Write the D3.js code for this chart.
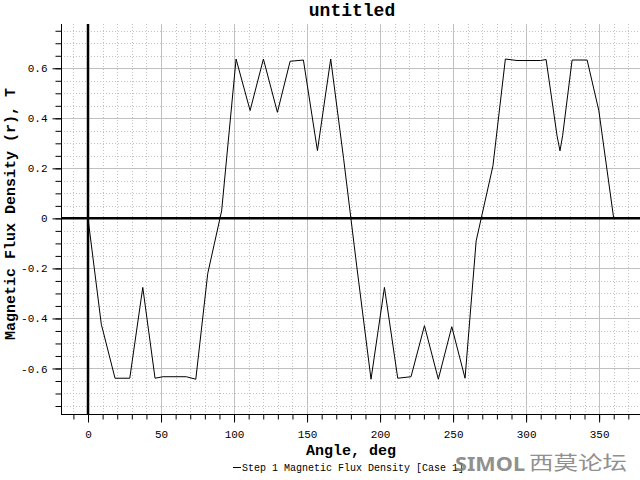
<!DOCTYPE html>
<html>
<head>
<meta charset="utf-8">
<script src="https://cdn.jsdelivr.net/npm/d3@7/dist/d3.min.js"></script>
<style>
  html, body { margin: 0; padding: 0; background: #fff; }
  svg { display: block; }
</style>
</head>
<body>
<svg id="chart" width="640" height="480"></svg>
<script>
// ---- data ----
const angles = [0, 9.1, 18.5, 28.6, 37.5, 45.9, 51.4, 67.3, 73.8, 82, 91.5, 101.4, 111, 120.1, 129.7,
  138.4, 147.5, 157.1, 166.2, 175, 184, 193.8, 203, 212.1, 221.2, 230.4, 239.9, 249.1, 258.2,
  265.8, 277.3, 285.8, 293.8, 309.8, 313.7, 321.2, 323.2, 325, 331.5, 341.8, 349.8, 360];
const fluxValues = [0, -0.423, -0.639, -0.639, -0.276, -0.639, -0.633, -0.633, -0.643, -0.22, 0.03,
  0.637, 0.431, 0.637, 0.424, 0.628, 0.633, 0.271, 0.637, 0.24, -0.19, -0.643, -0.276, -0.639,
  -0.633, -0.429, -0.643, -0.433, -0.639, -0.09, 0.21, 0.637, 0.631, 0.631, 0.635, 0.33, 0.27,
  0.33, 0.633, 0.633, 0.431, 0];
const xTickValues = [0, 50, 100, 150, 200, 250, 300, 350];
const xTickLabels = ["0", "50", "100", "150", "200", "250", "300", "350"];
const yTickValues = [-0.6, -0.4, -0.2, 0, 0.2, 0.4, 0.6];
const yTickLabels = ["-0.6", "-0.4", "-0.2", "0", "0.2", "0.4", "0.6"];
const titleText = "untitled";
const xTitle = "Angle, deg";
const yTitle = "Magnetic Flux Density (r), T";
const legendText = "Step 1 Magnetic Flux Density [Case 1]";

// ---- layout ----
const L = 61, R = 640, T = 24, B = 414;
const svg = d3.select("#chart");
const x = d3.scaleLinear().domain([-18.5, 378]).range([L, R]);
const y = d3.scaleLinear().domain([-0.782, 0.777]).range([B, T]);
const FONT = "'Liberation Mono', 'DejaVu Sans Mono', monospace";

svg.append("defs").append("clipPath").attr("id", "plotclip")
  .append("rect").attr("x", L).attr("y", T).attr("width", R - L).attr("height", B - T);

const plot = svg.append("g").attr("clip-path", "url(#plotclip)");

// minor grid (dotted)
const xMinor = d3.range(-10, 378, 10).filter(v => v % 50 !== 0);
const yMinor = d3.range(-15, 16).map(i => i * 0.05).filter(v => Math.abs(Math.round(v * 100)) % 20 !== 0);
plot.selectAll(".vgm").data(xMinor).enter().append("line")
  .attr("x1", d => Math.round(x(d)) + 0.5).attr("x2", d => Math.round(x(d)) + 0.5)
  .attr("y1", T).attr("y2", B)
  .attr("stroke", "#c2c2c2").attr("stroke-width", 1).attr("stroke-dasharray", "1,2");
plot.selectAll(".hgm").data(yMinor).enter().append("line")
  .attr("y1", d => Math.round(y(d)) + 0.5).attr("y2", d => Math.round(y(d)) + 0.5)
  .attr("x1", L).attr("x2", R)
  .attr("stroke", "#c2c2c2").attr("stroke-width", 1).attr("stroke-dasharray", "1,2");
// major grid (solid)
plot.selectAll(".vg").data(xTickValues.filter(v => v !== 0)).enter().append("line")
  .attr("x1", d => Math.round(x(d)) + 0.5).attr("x2", d => Math.round(x(d)) + 0.5)
  .attr("y1", T).attr("y2", B).attr("stroke", "#c0c0c0").attr("stroke-width", 1);
plot.selectAll(".hg").data(yTickValues.filter(v => v !== 0)).enter().append("line")
  .attr("y1", d => Math.round(y(d)) + 0.5).attr("y2", d => Math.round(y(d)) + 0.5)
  .attr("x1", L).attr("x2", R).attr("stroke", "#c0c0c0").attr("stroke-width", 1);

// zero lines
plot.append("line").attr("x1", x(0)).attr("x2", x(0)).attr("y1", T).attr("y2", B)
  .attr("stroke", "#000").attr("stroke-width", 2.5);
plot.append("line").attr("y1", y(0)).attr("y2", y(0)).attr("x1", L).attr("x2", R)
  .attr("stroke", "#000").attr("stroke-width", 2.5);

// curve
const pts = angles.map((a, i) => [a, fluxValues[i]]);
plot.append("path").datum(pts)
  .attr("fill", "none").attr("stroke", "#000").attr("stroke-width", 1)
  .attr("d", d3.line().x(d => x(d[0])).y(d => y(d[1])));

// axes
const yMinorAxis = d3.axisLeft(y).tickValues(d3.range(-15, 16).map(i => i * 0.05)).tickSize(6).tickFormat("");
svg.append("g").attr("transform", `translate(${L + 0.5},0)`).call(yMinorAxis)
  .call(g => g.select(".domain").remove());
const yAxis = d3.axisLeft(y).tickValues(yTickValues).tickSize(9).tickPadding(5)
  .tickFormat((d, i) => yTickLabels[i]);
svg.append("g").attr("transform", `translate(${L + 0.5},0)`).call(yAxis)
  .call(g => g.select(".domain").attr("d", `M0,${T}V${B}`))
  .call(g => g.selectAll("text").attr("font-family", FONT).attr("font-size", 11).attr("fill", "#000"));

const xMinorAxis = d3.axisBottom(x).tickValues(d3.range(-10, 378, 10)).tickSize(5).tickFormat("");
svg.append("g").attr("transform", `translate(0,${B + 0.5})`).call(xMinorAxis)
  .call(g => g.select(".domain").remove());
const xAxis = d3.axisBottom(x).tickValues(xTickValues).tickSize(8).tickPadding(8)
  .tickFormat((d, i) => xTickLabels[i]);
svg.append("g").attr("transform", `translate(0,${B + 0.5})`).call(xAxis)
  .call(g => g.select(".domain").attr("d", `M${L},0H${R}`))
  .call(g => g.selectAll("text").attr("font-family", FONT).attr("font-size", 11).attr("fill", "#000"));

// titles
svg.append("text").attr("x", 352).attr("y", 16).attr("text-anchor", "middle")
  .attr("font-family", FONT).attr("font-size", 18).attr("font-weight", "bold").text(titleText);
svg.append("text").attr("x", 351).attr("y", 455).attr("text-anchor", "middle")
  .attr("font-family", FONT).attr("font-size", 15).attr("font-weight", "bold").text(xTitle);
svg.append("text").attr("transform", "translate(15,214) rotate(-90)").attr("text-anchor", "middle")
  .attr("font-family", FONT).attr("font-size", 15).attr("font-weight", "bold").text(yTitle);

// legend
svg.append("line").attr("x1", 233).attr("x2", 241).attr("y1", 467.5).attr("y2", 467.5)
  .attr("stroke", "#000").attr("stroke-width", 1);
svg.append("text").attr("x", 242).attr("y", 471).attr("font-family", FONT).attr("font-size", 10)
  .attr("fill", "#000").text(legendText);

// watermark
svg.append("text").attr("x", 455).attr("y", 471).attr("font-family", "'Noto Sans', sans-serif")
  .attr("font-size", 19).attr("font-weight", "bold").attr("fill", "#7d7d7d").attr("opacity", 0.85)
  .attr("textLength", 70).attr("lengthAdjust", "spacingAndGlyphs").text("SIMOL");
svg.append("text").attr("x", 529).attr("y", 470).attr("font-family", "'Noto Sans CJK SC', sans-serif")
  .attr("font-size", 19).attr("fill", "#7d7d7d").attr("opacity", 0.85)
  .attr("textLength", 98).attr("lengthAdjust", "spacingAndGlyphs").text("西莫论坛");
</script>
</body>
</html>
